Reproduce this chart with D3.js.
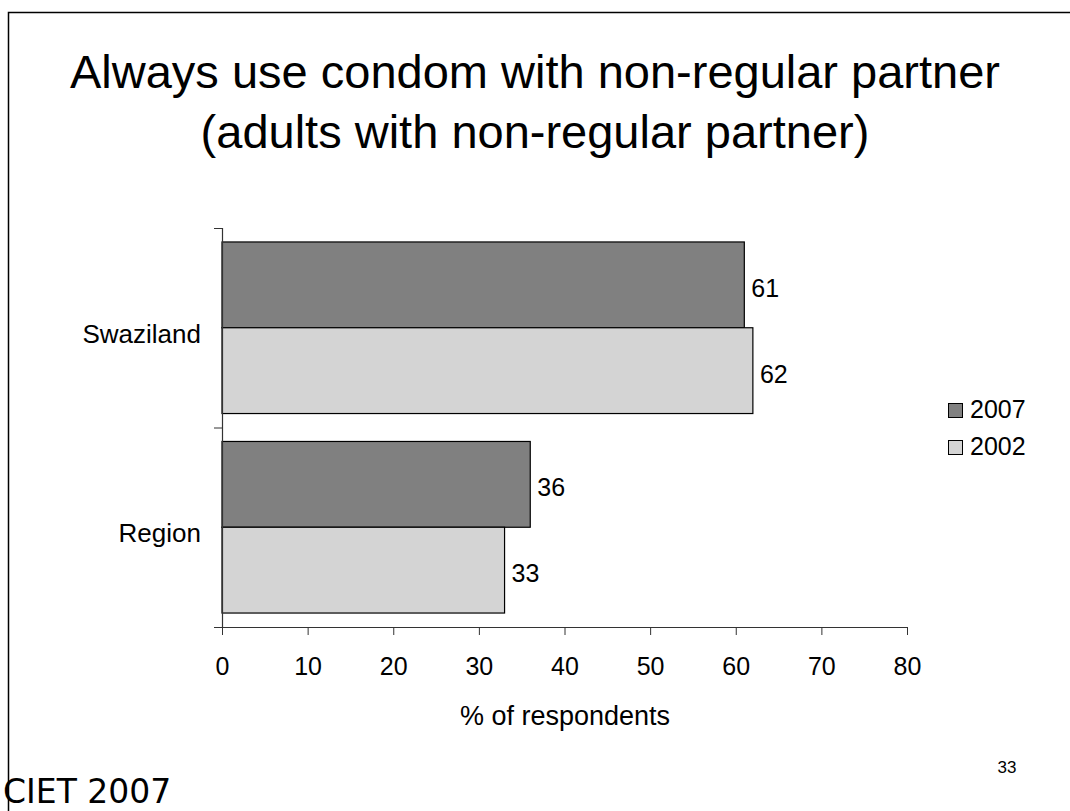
<!DOCTYPE html>
<html><head><meta charset="utf-8">
<script src="https://cdn.jsdelivr.net/npm/d3@7"></script>
<style>body{margin:0;background:#fff}svg{display:block}</style>
</head><body>
<svg id="c" width="1070" height="811"></svg>
<script>
const categories = ["Swaziland", "Region"];
const seriesNames = ["2007", "2002"];
const values2007 = [61, 36];
const values2002 = [62, 33];
const xTicks = [0, 10, 20, 30, 40, 50, 60, 70, 80];
const colors = ["#808080", "#d4d4d4"];

const svg = d3.select("#c");
const font = "'Liberation Sans', Arial, sans-serif";

// frame
svg.append("path").attr("d", "M8.5,811 V12.5 H1070").attr("fill", "none").attr("stroke", "#000").attr("stroke-width", 1.5);

// title
svg.append("text").attr("x", 535).attr("y", 88).attr("text-anchor", "middle")
  .attr("font-family", font).attr("font-size", 47).text("Always use condom with non-regular partner");
svg.append("text").attr("x", 535).attr("y", 148).attr("text-anchor", "middle")
  .attr("font-family", font).attr("font-size", 47).text("(adults with non-regular partner)");

const x = d3.scaleLinear().domain([0, 80]).range([222, 907]);
const y = d3.scaleBand().domain(categories).range([228, 627]).paddingInner(0.14).paddingOuter(0.07);
const ySub = d3.scaleBand().domain(seriesNames).range([0, y.bandwidth()]);

const data = categories.map((c, i) => ({cat: c, vals: [values2007[i], values2002[i]]}));

const g = svg.append("g");
data.forEach(d => {
  d.vals.forEach((v, j) => {
    const yy = y(d.cat) + ySub(seriesNames[j]);
    g.append("rect").attr("x", x(0)).attr("y", yy).attr("width", x(v) - x(0)).attr("height", ySub.bandwidth())
      .attr("fill", colors[j]).attr("stroke", "#000").attr("stroke-width", 1.2);
    g.append("text").attr("x", x(v) + 7).attr("y", yy + ySub.bandwidth() / 2 + 12)
      .attr("font-family", font).attr("font-size", 25).text(v);
  });
});

// x axis
const xAxis = svg.append("g").attr("transform", "translate(0,627)")
  .call(d3.axisBottom(x).tickValues(xTicks).tickSize(8).tickPadding(22).tickSizeOuter(0));
xAxis.select(".domain").attr("stroke", "#333").attr("d", "M214,0.5H907");
xAxis.selectAll(".tick line").attr("stroke", "#333");
xAxis.selectAll("text").attr("font-family", font).attr("font-size", 25).attr("fill", "#000");

// y axis
svg.append("line").attr("x1", 222.5).attr("x2", 222.5).attr("y1", 228).attr("y2", 627).attr("stroke", "#333").attr("stroke-width", 1.2);
const boundaries = [y.range()[0], (y(categories[0]) + y.bandwidth() + y(categories[1])) / 2];
boundaries.forEach(v => svg.append("line").attr("x1", 214).attr("x2", 222).attr("y1", v + 0.5).attr("y2", v + 0.5).attr("stroke", "#333"));
categories.forEach(c => {
  svg.append("text").attr("x", 201).attr("y", y(c) + y.bandwidth() / 2 + 15).attr("text-anchor", "end")
    .attr("font-family", font).attr("font-size", 26).text(c);
});

svg.append("text").attr("x", 565).attr("y", 725).attr("text-anchor", "middle")
  .attr("font-family", font).attr("font-size", 27).text("% of respondents");

// legend
seriesNames.forEach((s, i) => {
  const ly = 403 + i * 37;
  svg.append("rect").attr("x", 948.5).attr("y", ly + 0.5).attr("width", 14).attr("height", 14)
    .attr("fill", colors[i]).attr("stroke", "#000").attr("stroke-width", 1);
  svg.append("text").attr("x", 970).attr("y", ly + 15).attr("font-family", font).attr("font-size", 25).text(s);
});

svg.append("text").attr("x", 1007).attr("y", 773).attr("text-anchor", "middle")
  .attr("font-family", font).attr("font-size", 17).text("33");
svg.append("text").attr("x", 3).attr("y", 803)
  .attr("font-family", "'DejaVu Sans', sans-serif").attr("font-size", 33).text("CIET 2007");
</script>
</body></html>
